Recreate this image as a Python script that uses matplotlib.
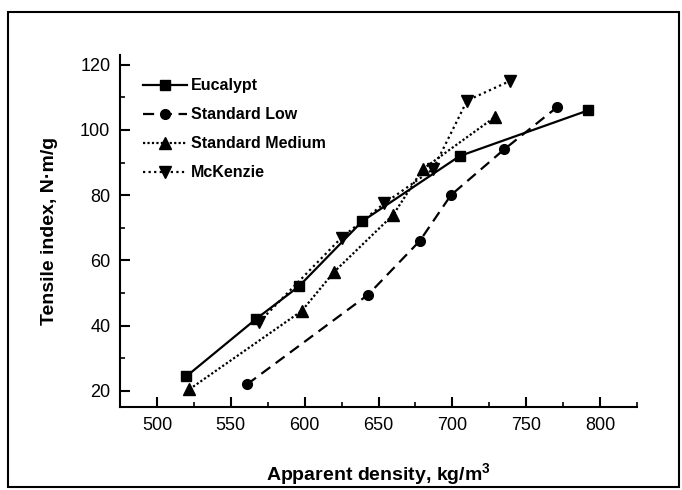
import matplotlib
matplotlib.use("Agg")
import matplotlib.pyplot as plt
from matplotlib.patches import Rectangle
from matplotlib.ticker import MultipleLocator

plt.rcParams['font.family'] = ['Liberation Sans', 'DejaVu Sans']
plt.rcParams['mathtext.fontset'] = 'custom'
plt.rcParams['mathtext.rm'] = 'Liberation Sans'
plt.rcParams['mathtext.bf'] = 'Liberation Sans:bold'

euc_x = [520, 567, 596, 639, 705, 792]
euc_y = [24.5, 42, 52, 72, 92, 106]
low_x = [561, 643, 678, 699, 735, 771]
low_y = [22, 49.5, 66, 80, 94, 107]
med_x = [522, 598, 620, 660, 680, 729]
med_y = [20.5, 44.5, 56.5, 74, 88, 104]
mck_x = [569, 625, 654, 687, 710, 739]
mck_y = [41, 67, 77.5, 88, 109, 115]

fig = plt.figure(figsize=(6.82, 4.9), dpi=100)
ax = fig.add_axes([0.176, 0.169, 0.758, 0.719])

ax.plot(euc_x, euc_y, '-', color='black', lw=1.6, marker='s', ms=7, label='Eucalypt')
ax.plot(low_x, low_y, color='black', lw=1.6, ls=(0, (5, 3)), marker='o', ms=7, label='Standard Low')
ax.plot(med_x, med_y, color='black', lw=1.6, ls=(0, (1, 1)), marker='^', ms=8, label='Standard Medium')
ax.plot(mck_x, mck_y, color='black', lw=1.6, ls=(0, (1, 1.5)), marker='v', ms=8, label='McKenzie')

ax.set_xlim(475, 825)
ax.set_ylim(15, 123)
ax.xaxis.set_major_locator(MultipleLocator(50))
ax.xaxis.set_minor_locator(MultipleLocator(25))
ax.yaxis.set_major_locator(MultipleLocator(20))
ax.yaxis.set_minor_locator(MultipleLocator(10))
for s in ['top', 'right']:
    ax.spines[s].set_visible(False)
for s in ['left', 'bottom']:
    ax.spines[s].set_linewidth(1.5)
ax.tick_params(which='major', direction='in', length=7, width=1.5, labelsize=13, pad=7)
ax.tick_params(which='minor', direction='in', length=3.5, width=1.2)

ax.set_xlabel(r'Apparent density, kg/m$^\mathbf{3}$', fontsize=14, fontweight='bold', labelpad=20)
ax.set_ylabel('Tensile index, N·m/g', fontsize=14, fontweight='bold', labelpad=16)

leg = ax.legend(loc='upper left', bbox_to_anchor=(0.0166, 0.974), frameon=False,
                prop={'size': 11.5, 'weight': 'bold'}, labelspacing=0.87,
                handlelength=2.75, handletextpad=0.25)

fig.patches.append(Rectangle((0.012, 0.006), 0.984, 0.97, transform=fig.transFigure,
                             fill=False, edgecolor='black', lw=1.5))

fig.savefig('out.png', dpi=100)
